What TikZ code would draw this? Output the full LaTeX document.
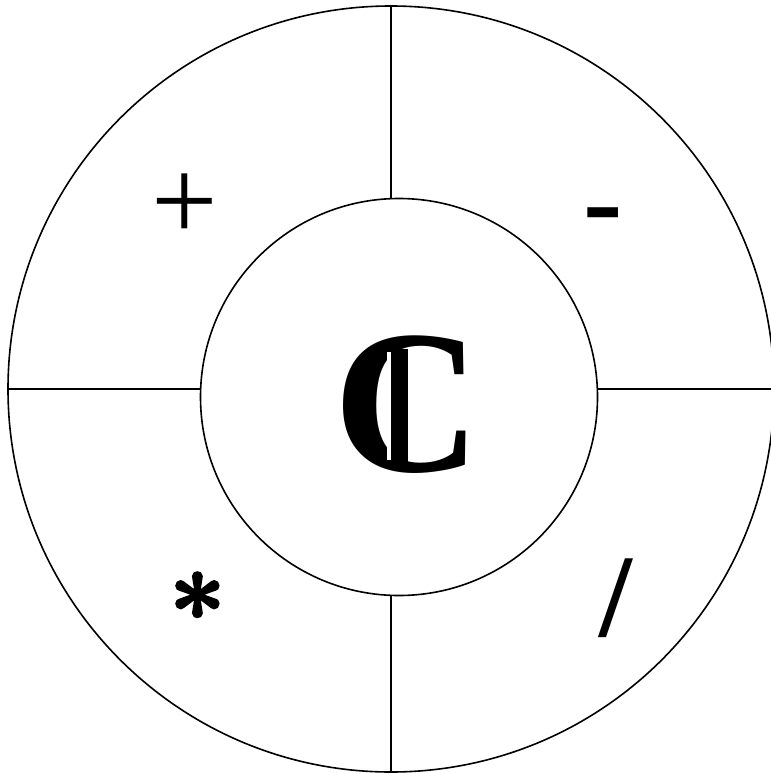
\documentclass[tikz,border=0pt]{standalone}
\usepackage{fontspec}
\newfontfamily\symfont{Liberation Serif}
\newfontfamily\astfont{Latin Modern Roman}[BoldFeatures={FakeBold=2.5}]
\begin{document}
\begin{tikzpicture}[x=1bp,y=-1bp,
  ring/.style={circle,draw,line width=1.6bp,inner sep=0pt},
  divider/.style={line width=1.6bp},
  opsym/.style={inner sep=0pt,font=\symfont\fontsize{118bp}{118bp}\selectfont},
  opbold/.style={inner sep=0pt,font=\symfont\bfseries\fontsize{118bp}{118bp}\selectfont},
  astsym/.style={inner sep=0pt,font=\astfont\bfseries\fontsize{100bp}{100bp}\selectfont},
  bigsym/.style={inner sep=0pt,font=\symfont\bfseries\fontsize{205bp}{205bp}\selectfont}]
\useasboundingbox (0,0) rectangle (771,773);
\node[ring,minimum size=766bp] (outer) at (391,389) {};
\node[ring,minimum size=397bp] (inner) at (399,397) {};
\draw[divider] (outer.north) -- (outer.north |- inner.north);
\draw[divider] (outer.south) -- (outer.south |- inner.south);
\draw[divider] (outer.west) -- (outer.west -| inner.west);
\draw[divider] (outer.east) -- (outer.east -| inner.east);
\node[opsym] (plus) at (185,207.5) {+};
\node[opbold] (minus) at (603,224) {-};
\node[astsym] (times) at (197.5,610) {*};
\node[opbold] (divide) at (616,598) {/};
\node[bigsym] (field) at (407.5,405) {C};
\draw[white,line width=4bp] (389,352) -- (389,460);
\fill (391,349) rectangle (408,462);
\end{tikzpicture}
\end{document}
